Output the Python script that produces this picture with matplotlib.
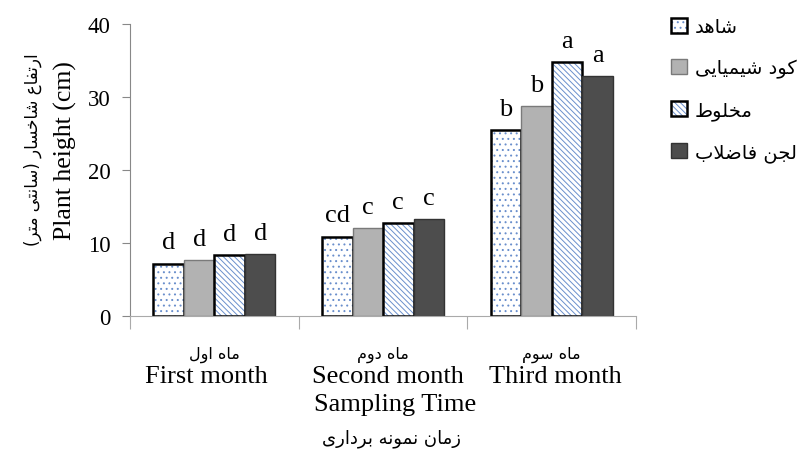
import matplotlib
matplotlib.use('Agg')
import matplotlib.pyplot as plt
import numpy as np
from matplotlib.patches import Patch

# data
months_en = ['First month', 'Second month', 'Third month']
months_fa = ['ماه اول', 'ماه دوم', 'ماه سوم']
treatments = ['شاهد', 'کود شیمیایی', 'مخلوط', 'لجن فاضلاب']
control = [7.2, 10.9, 25.5]
chemical = [7.7, 12.1, 28.8]
mixed = [8.4, 12.7, 34.8]
sludge = [8.5, 13.3, 32.8]
letters_control = ['d', 'cd', 'b']
letters_chemical = ['d', 'c', 'b']
letters_mixed = ['d', 'c', 'a']
letters_sludge = ['d', 'c', 'a']
yticks = [0, 10, 20, 30, 40]
ylabel_en = 'Plant height (cm)'
ylabel_fa = 'ارتفاع شاخسار (سانتی متر)'
xlabel_en = 'Sampling Time'
xlabel_fa = 'زمان نمونه برداری'

# small persian shaper: matplotlib has no arabic shaping / bidi
FORMS = {  # isolated, final, initial, medial
    'ا': ('\uFE8D', '\uFE8E'),
    'ب': ('\uFE8F', '\uFE90', '\uFE91', '\uFE92'),
    'ت': ('\uFE95', '\uFE96', '\uFE97', '\uFE98'),
    'ج': ('\uFE9D', '\uFE9E', '\uFE9F', '\uFEA0'),
    'خ': ('\uFEA5', '\uFEA6', '\uFEA7', '\uFEA8'),
    'د': ('\uFEA9', '\uFEAA'),
    'ر': ('\uFEAD', '\uFEAE'),
    'ز': ('\uFEAF', '\uFEB0'),
    'س': ('\uFEB1', '\uFEB2', '\uFEB3', '\uFEB4'),
    'ش': ('\uFEB5', '\uFEB6', '\uFEB7', '\uFEB8'),
    'ض': ('\uFEBD', '\uFEBE', '\uFEBF', '\uFEC0'),
    'ط': ('\uFEC1', '\uFEC2', '\uFEC3', '\uFEC4'),
    'ع': ('\uFEC9', '\uFECA', '\uFECB', '\uFECC'),
    'ف': ('\uFED1', '\uFED2', '\uFED3', '\uFED4'),
    'ل': ('\uFEDD', '\uFEDE', '\uFEDF', '\uFEE0'),
    'م': ('\uFEE1', '\uFEE2', '\uFEE3', '\uFEE4'),
    'ن': ('\uFEE5', '\uFEE6', '\uFEE7', '\uFEE8'),
    'ه': ('\uFEE9', '\uFEEA', '\uFEEB', '\uFEEC'),
    'و': ('\uFEED', '\uFEEE'),
    'ک': ('\uFB8E', '\uFB8F', '\uFB90', '\uFB91'),
    'ی': ('\uFBFC', '\uFBFD', '\uFBFE', '\uFBFF'),
}


def fa(text):
    chars = list(text)
    out = []
    i = 0
    n = len(chars)
    while i < n:
        c = chars[i]
        prev = chars[i - 1] if i > 0 else ''
        link_prev = prev in FORMS and len(FORMS[prev]) == 4
        if c == 'ل' and i + 1 < n and chars[i + 1] == 'ا':
            out.append('\uFEFC' if link_prev else '\uFEFB')
            i += 2
            continue
        if c not in FORMS:
            out.append(c)
            i += 1
            continue
        nxt = chars[i + 1] if i + 1 < n else ''
        f = FORMS[c]
        link_next = len(f) == 4 and nxt in FORMS
        if link_prev and link_next:
            out.append(f[3])
        elif link_prev:
            out.append(f[1])
        elif link_next:
            out.append(f[2])
        else:
            out.append(f[0])
        i += 1
    s = ''.join(out[::-1])
    return s.translate(str.maketrans('()', ')('))


serif = ['Liberation Serif', 'DejaVu Serif']
farsi = ['DejaVu Sans']
plt.rcParams['font.family'] = serif
plt.rcParams['hatch.linewidth'] = 0.7

fig = plt.figure(figsize=(8.03, 4.52), dpi=100)
ax = fig.add_axes([0.162, 0.298, 0.630, 0.647])

x = np.arange(len(months_en))
w = 0.181
blue = '#6a8fcc'
series = [control, chemical, mixed, sludge]
marks = [letters_control, letters_chemical, letters_mixed, letters_sludge]
handles = []
for k, vals in enumerate(series):
    pos = x + (k - 1.5) * w
    if k == 0:
        ax.bar(pos, vals, w, color='white', edgecolor=blue, hatch='...', linewidth=0)
        ax.bar(pos, vals, w, fill=False, edgecolor='black', linewidth=1.8)
        h = (Patch(facecolor='white', edgecolor=blue, hatch='...', linewidth=0),
             Patch(fill=False, edgecolor='black', linewidth=1.8))
    elif k == 1:
        ax.bar(pos, vals, w, color='#b2b2b2', edgecolor='#7a7a7a', linewidth=1)
        h = Patch(facecolor='#b2b2b2', edgecolor='#7a7a7a', linewidth=1)
    elif k == 2:
        ax.bar(pos, vals, w, color='white', edgecolor=blue, hatch='\\\\\\\\\\\\', linewidth=0)
        ax.bar(pos, vals, w, fill=False, edgecolor='black', linewidth=1.8)
        h = (Patch(facecolor='white', edgecolor=blue, hatch='\\\\\\\\\\\\', linewidth=0),
             Patch(fill=False, edgecolor='black', linewidth=1.8))
    else:
        ax.bar(pos, vals, w, color='#4d4d4d', edgecolor='#333333', linewidth=1)
        h = Patch(facecolor='#4d4d4d', edgecolor='#333333', linewidth=1)
    handles.append(h)
    for p, v, m in zip(pos, vals, marks[k]):
        ax.text(p, v + 1.4, m, ha='center', va='bottom', fontsize=19)

ax.set_xlim(-0.5, 2.5)
ax.set_ylim(0, 40)
ax.set_yticks(yticks)
ax.set_xticks([-0.5, 0.5, 1.5, 2.5])
ax.set_xticklabels([])
ax.tick_params(axis='y', labelsize=16.5, length=6, color='#888888', pad=8)
ax.tick_params(axis='x', length=9, color='#aaaaaa')
for s in ['top', 'right']:
    ax.spines[s].set_visible(False)
ax.spines['left'].set_color('#888888')
ax.spines['bottom'].set_color('#aaaaaa')

label_dx = [-0.05, 0.03, 0.02]
for xi, dx, en, f in zip(x, label_dx, months_en, months_fa):
    ax.text(xi, -5.1, fa(f), ha='center', va='center', fontsize=11.5, family=farsi)
    ax.text(xi + dx, -8.1, en, ha='center', va='center', fontsize=19)
ax.text(1.07, -12.0, xlabel_en, ha='center', va='center', fontsize=19)
ax.text(1.05, -16.6, fa(xlabel_fa), ha='center', va='center', fontsize=13, family=farsi)

fig.text(0.082, 0.668, ylabel_en, rotation=90, ha='center', va='center', fontsize=18.5)
fig.text(0.041, 0.668, fa(ylabel_fa), rotation=90, ha='center', va='center', fontsize=12, family=farsi)

leg = fig.legend(handles, [fa(t) for t in treatments], loc='upper left',
                 bbox_to_anchor=(0.836, 0.96), frameon=False, borderpad=0,
                 borderaxespad=0, prop={'family': farsi, 'size': 14},
                 handlelength=0.8, handleheight=0.8, handletextpad=0.4,
                 labelspacing=1.15)

fig.savefig('out.png', dpi=100)
